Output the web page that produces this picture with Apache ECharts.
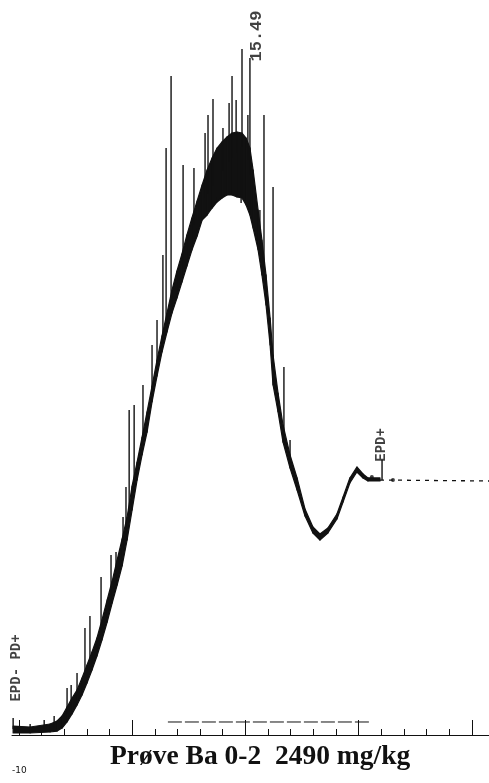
<!DOCTYPE html>
<html>
<head>
    <meta charset="utf-8">
    <title>Prøve Ba 0-2</title>
    <script src="https://cdn.jsdelivr.net/npm/echarts@6/dist/echarts.min.js"></script>
    <style>
        html, body { margin: 0; padding: 0; background: #fff; }
    </style>
</head>
<body>
<div id="main" style="width: 489px;height:783px;"></div>
<script type="text/javascript">
    // retention time (min) and the noisy detector band (% of full scale): lower and upper edge
    var traceTime = [4.75, 5.50, 6.38, 6.69, 6.91, 7.13, 7.35, 7.57, 7.79, 8.01, 8.23, 8.45, 8.67, 8.90, 9.12,
        9.34, 9.56, 9.78, 10.00, 10.22, 10.44, 10.66, 10.88, 11.10, 11.32, 11.54, 11.76, 11.98, 12.20, 12.42, 12.64, 12.87,
        13.09, 13.31, 13.53, 13.75, 13.97, 14.19, 14.41, 14.63, 14.85, 15.03, 15.20, 15.34, 15.56, 15.73, 15.91, 16.09,
        16.22, 16.44, 16.66, 16.97, 17.28, 17.63, 17.98, 18.29, 18.64, 19.04, 19.31, 19.61, 19.92, 20.19, 20.41, 20.94];
    var traceLow = [0.27, 0.27, 0.41, 0.54, 0.95, 1.77, 2.86, 4.08, 5.44, 7.07, 8.84, 10.75, 12.93, 15.37, 17.96,
        20.41, 23.00, 26.53, 30.61, 34.69, 38.10, 41.22, 45.31, 48.84, 52.11, 54.83, 57.41, 59.46, 61.63, 63.81, 65.99, 67.89,
        70.07, 70.75, 71.70, 72.52, 73.06, 73.47, 73.47, 73.20, 73.06, 72.11, 70.75, 68.98, 65.99, 62.59, 58.50, 53.06,
        47.62, 43.95, 39.86, 36.33, 33.33, 29.80, 27.48, 26.53, 27.48, 29.39, 31.70, 34.29, 35.78, 34.97, 34.56, 34.56];
    var traceHigh = [1.22, 1.09, 1.50, 1.90, 2.59, 3.81, 5.03, 6.12, 7.75, 9.52, 11.29, 13.20, 15.65, 18.37, 20.95,
        23.81, 26.67, 29.66, 33.88, 37.14, 40.54, 43.95, 47.48, 51.02, 54.29, 57.41, 60.54, 63.13, 65.44, 68.03, 70.34, 72.65,
        74.83, 76.87, 78.50, 79.86, 80.68, 81.36, 81.90, 82.04, 81.90, 81.22, 79.86, 76.87, 71.43, 67.35, 62.59, 56.73,
        51.70, 46.53, 42.18, 38.10, 34.97, 30.75, 28.30, 27.35, 28.16, 30.07, 32.38, 34.97, 36.46, 35.51, 34.97, 34.97];

    // single-scan spikes: time, foot, tip
    var spikeTime = [4.75, 5.50, 6.12, 6.56, 7.13, 7.31, 7.57, 7.92, 8.14, 8.63, 9.07, 9.29, 9.60, 9.73, 9.87, 10.09, 10.48,
        10.88, 11.10, 11.36, 11.50, 11.72, 12.25, 12.73, 13.22, 13.35, 13.57, 14.01, 14.28, 14.41, 14.59, 14.81, 14.85,
        15.11, 15.20, 15.64, 15.82, 16.22, 16.70, 16.97, 21.03];
    var spikeLow = [0.82, 0.68, 0.82, 0.95, 2.86, 3.95, 5.31, 7.75, 9.52, 14.01, 19.05, 21.50, 25.17, 27.21, 29.93, 34.01, 40.41,
        46.94, 50.48, 54.29, 56.05, 58.91, 64.49, 69.39, 73.06, 73.61, 74.69, 76.73, 77.96, 78.50, 79.18, 72.38, 80.00,
        78.23, 76.19, 65.99, 63.27, 49.39, 40.14, 37.01, 34.69];
    var spikeHigh = [2.31, 1.50, 2.04, 2.59, 6.39, 6.80, 8.44, 14.56, 16.19, 21.50, 24.49, 24.90, 29.66, 33.74, 44.22, 44.90, 47.62,
        53.06, 56.46, 65.31, 79.86, 89.66, 77.55, 77.14, 81.90, 84.35, 86.53, 82.59, 85.99, 89.66, 86.39, 80.00, 93.33,
        84.35, 92.11, 71.43, 84.35, 74.56, 50.07, 40.14, 37.40];

    // flat part after integration end, integration baseline, stray dots
    var tailTime = [20.94, 25.75];
    var tailSignal = [34.69, 34.56];
    var baseTime = [11.58, 20.58];
    var baseSignal = [1.77, 1.77];
    var dotTime = [20.58, 21.51];
    var dotSignal = [35.10, 34.69];

    // axis ticks (min)
    var minorTicks = [5, 6, 7, 8, 9, 10, 11, 12, 13, 14, 15, 16, 17, 18, 19, 20, 21, 22, 23, 24, 25];
    var majorTicks = [5, 10, 15, 20, 25];

    // printed annotations
    var noteText = ['EPD- PD+', '15.49', 'EPD+'];
    var noteTime = [4.88, 15.49, 21.02];
    var noteSignal = [9.12, 95.10, 39.46];

    function pairs(xs, ys) {
        var out = [];
        for (var i = 0; i < xs.length; i++) out.push([xs[i], ys[i]]);
        return out;
    }

    var bandData = [];
    for (var k = 0; k < traceTime.length - 1; k++) {
        bandData.push([traceTime[k], traceLow[k], traceHigh[k], traceTime[k + 1], traceLow[k + 1], traceHigh[k + 1]]);
    }
    var spikeData = [];
    for (var i = 0; i < spikeTime.length; i++) {
        spikeData.push([spikeTime[i], spikeLow[i], spikeHigh[i]]);
    }
    var noteData = [];
    for (var j = 0; j < noteText.length; j++) {
        var item = {name: noteText[j], value: [noteTime[j], noteSignal[j]]};
        if (noteText[j] === '15.49') item.label = {fontSize: 17};
        noteData.push(item);
    }

    var ink = '#111';

    var myChart = echarts.init(document.getElementById('main'));
    var option = {
        backgroundColor: '#fff',
        animation: false,
        title: {
            text: 'Prøve Ba 0-2  2490 mg/kg',
            left: 110,
            top: 743,
            padding: 0,
            textStyle: {
                fontFamily: 'Liberation Serif',
                fontWeight: 'bold',
                fontSize: 27.5,
                color: ink
            }
        },
        graphic: [{
            type: 'text',
            left: 12,
            top: 766,
            style: {text: '-10', font: '9px DejaVu Sans', fill: ink}
        }],
        grid: {left: 12, right: 0, top: 0, bottom: 48},
        xAxis: [{
            type: 'value',
            min: 4.7,
            max: 25.75,
            axisLine: {lineStyle: {color: ink, width: 1}},
            axisTick: {show: true, inside: true, length: 6, customValues: minorTicks, lineStyle: {color: ink, width: 1}},
            axisLabel: {show: false},
            splitLine: {show: false}
        }, {
            type: 'value',
            min: 4.7,
            max: 25.75,
            position: 'bottom',
            axisLine: {show: false},
            axisTick: {show: true, inside: true, length: 15, customValues: majorTicks, lineStyle: {color: ink, width: 1}},
            axisLabel: {show: false},
            splitLine: {show: false}
        }],
        yAxis: {
            type: 'value',
            min: 0,
            max: 100,
            show: false
        },
        series: [{
            // noise band of the trace
            type: 'custom',
            data: bandData,
            encode: {x: [0, 3], y: [1, 2, 4, 5]},
            renderItem: function (params, api) {
                var a = api.coord([api.value(0), api.value(2)]);
                var b = api.coord([api.value(3), api.value(5)]);
                var c = api.coord([api.value(3), api.value(4)]);
                var d = api.coord([api.value(0), api.value(1)]);
                return {
                    type: 'polygon',
                    shape: {points: [a, b, c, d]},
                    style: {fill: ink, stroke: ink, lineWidth: 1.2, lineJoin: 'round'}
                };
            }
        }, {
            type: 'custom',
            data: spikeData,
            encode: {x: 0, y: [1, 2]},
            renderItem: function (params, api) {
                var p1 = api.coord([api.value(0), api.value(1)]);
                var p2 = api.coord([api.value(0), api.value(2)]);
                return {
                    type: 'line',
                    shape: {x1: p1[0], y1: p1[1], x2: p2[0], y2: p2[1]},
                    style: {stroke: ink, lineWidth: 1.4}
                };
            }
        }, {
            type: 'line',
            data: pairs(tailTime, tailSignal),
            showSymbol: false,
            lineStyle: {color: ink, width: 1.3, type: [4, 5]}
        }, {
            type: 'line',
            data: pairs(baseTime, baseSignal),
            showSymbol: false,
            lineStyle: {color: ink, width: 1, type: [14, 3]}
        }, {
            type: 'scatter',
            data: pairs(dotTime, dotSignal),
            symbolSize: 4,
            itemStyle: {color: ink}
        }, {
            type: 'scatter',
            data: noteData,
            symbolSize: 1,
            itemStyle: {color: 'rgba(0,0,0,0)'},
            label: {
                show: true,
                position: 'inside',
                rotate: 90,
                formatter: '{b}',
                fontFamily: 'Liberation Mono',
                fontWeight: 'bold',
                fontSize: 14,
                color: ink
            }
        }]
    };
    myChart.setOption(option);
</script>
</body>
</html>
